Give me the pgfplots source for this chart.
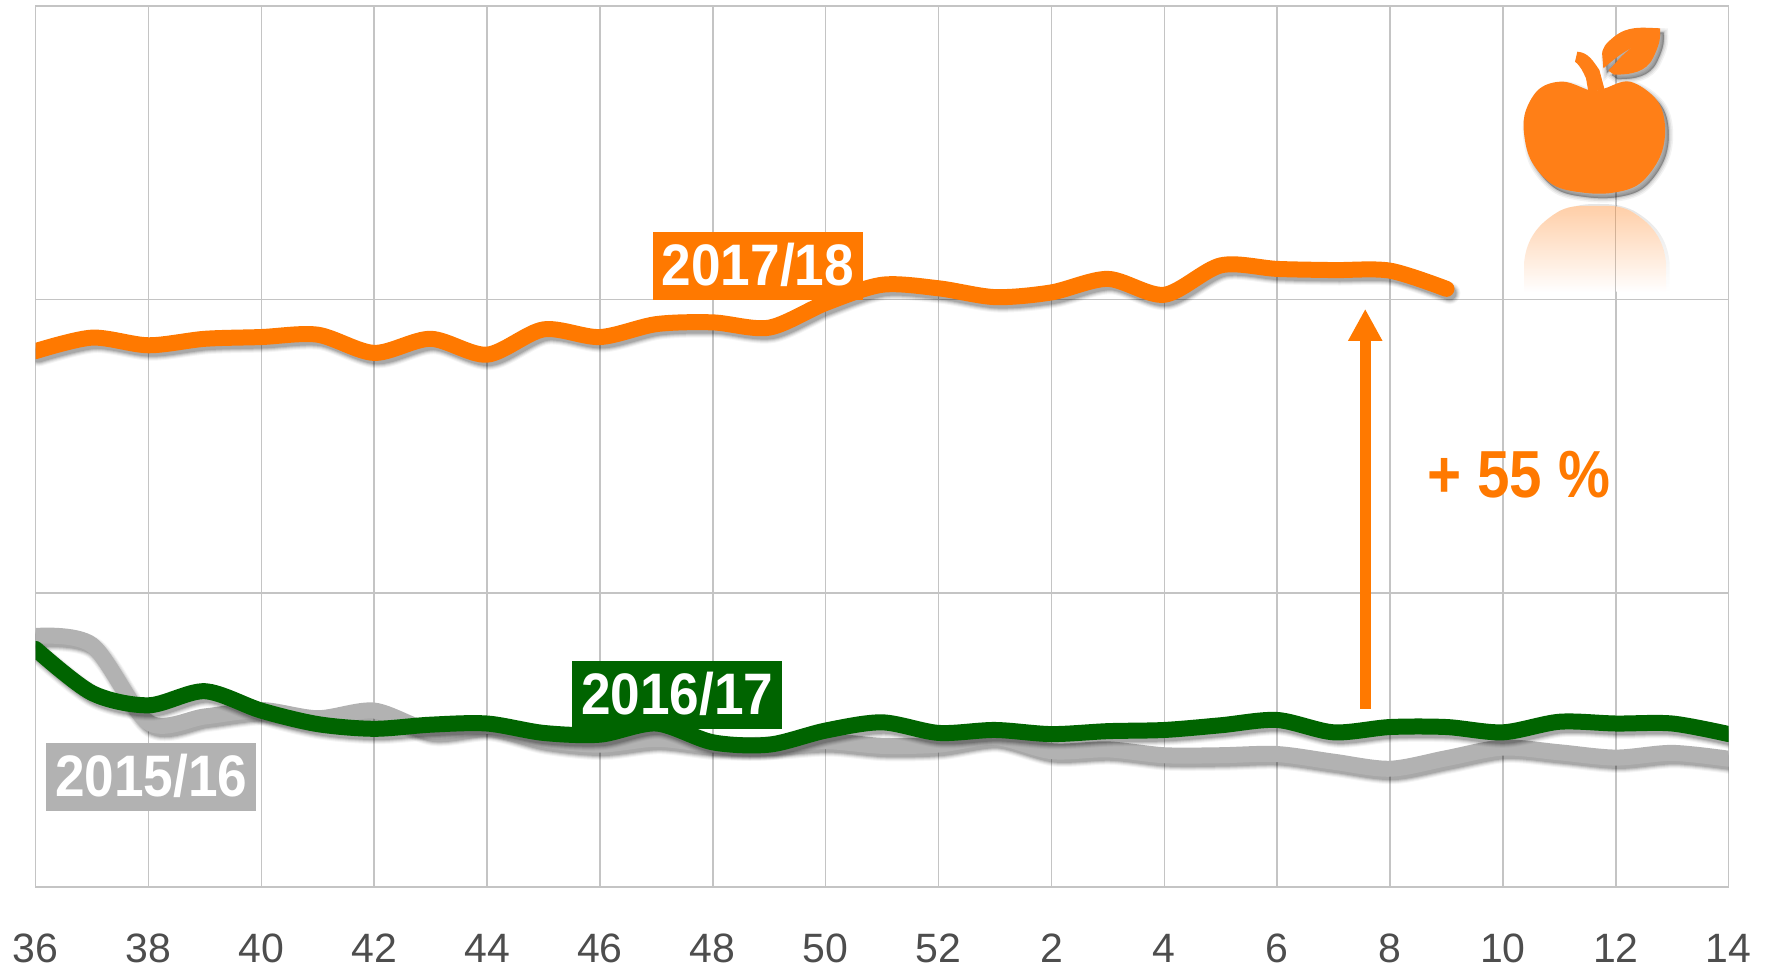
\documentclass[border=0pt]{standalone}
\usepackage{fontspec}
\setmainfont{Liberation Sans}
\usepackage{pgfplots}
\usepackage{pgfplotstable}
\pgfplotsset{compat=1.18}
\usetikzlibrary{arrows.meta,fadings}

\definecolor{gridgray}{HTML}{C4C4C4}
\definecolor{ticktext}{HTML}{4D4D4D}
\definecolor{c1516}{HTML}{B2B2B2}
\definecolor{c1617}{HTML}{006400}
\definecolor{c1718}{HTML}{FF7900}
\definecolor{appleorange}{HTML}{FF7F17}

% week index: 0 = week 36, 16 = week 52, 17 = week 1, 30 = week 14
\pgfplotstableread{
x y
0 142.7
1 141.2
2 128.0
3 129.0
4 130.1
5 128.7
6 130.0
7 126.6
8 127.4
9 125.1
10 124.2
11 125.2
12 124.2
13 124.2
14 124.8
15 124.0
16 124.2
17 125.5
18 123.1
19 123.4
20 122.4
21 122.4
22 122.6
23 121.3
24 120.1
25 121.9
26 123.7
27 122.9
28 122.0
29 122.8
30 121.8
}\seasonA
\pgfplotstableread{
x y
0 140.5
1 133.0
2 130.9
3 133.3
4 130.0
5 127.7
6 126.9
7 127.6
8 127.8
9 126.2
10 125.9
11 127.8
12 124.6
13 124.2
14 126.6
15 128.0
16 126.2
17 126.7
18 126.0
19 126.5
20 126.7
21 127.5
22 128.4
23 126.3
24 127.2
25 127.2
26 126.3
27 128.1
28 127.8
29 127.8
30 126.0
}\seasonB
\pgfplotstableread{
x y
0 191.2
1 193.5
2 192.2
3 193.3
4 193.6
5 194.0
6 190.9
7 193.3
8 190.6
9 194.9
10 193.6
11 195.8
12 196.1
13 195.2
14 199.4
15 202.5
16 201.9
17 200.4
18 201.2
19 203.5
20 200.8
21 205.8
22 205.2
23 205.0
24 204.9
25 201.8
}\seasonC

% soft shadow (a few see-through strokes), then the line itself
\newcommand{\seasonline}[2]{
  \addplot[smooth,black,opacity=.04,line width=11pt,line cap=round,xshift=1.5pt,yshift=-2.2pt] table {#2};
  \addplot[smooth,black,opacity=.06,line width=10pt,line cap=round,xshift=1.5pt,yshift=-2.2pt] table {#2};
  \addplot[smooth,black,opacity=.08,line width=9pt,line cap=round,xshift=1.5pt,yshift=-2.2pt] table {#2};
  \addplot[smooth,black,opacity=.10,line width=8pt,line cap=round,xshift=1.5pt,yshift=-2.2pt] table {#2};
  \addplot[smooth,black,opacity=.12,line width=7pt,line cap=round,xshift=1.5pt,yshift=-2.2pt] table {#2};
  \addplot[smooth,#1,line width=8pt,line cap=round,line join=round] table {#2};
}

\begin{document}
\begin{tikzpicture}
\path[use as bounding box] (0,0) rectangle (885pt,484pt);
\begin{axis}[
    at={(17.75pt,40.6pt)},
    anchor=south west,
    scale only axis,
    width=846.6pt,
    height=440.5pt,
    xmin=0, xmax=30,
    ymin=100, ymax=250,
    xtick={0,2,...,30},
    xticklabels={36,38,40,42,44,46,48,50,52,2,4,6,8,10,12,14},
    ytick={100,150,200,250},
    yticklabels={},
    xmajorgrids,
    ymajorgrids,
    grid style={gridgray,line width=.75pt},
    axis line style={gridgray,line width=.75pt},
    major tick length=0pt,
    xticklabel style={anchor=base,inner sep=0pt,yshift=-38pt,text=ticktext,font=\fontsize{20.5}{24}\selectfont},
]
\seasonline{c1516}{\seasonA}
\seasonline{c1617}{\seasonB}
\seasonline{c1718}{\seasonC}

\draw[c1718,line width=5.3pt,-{Triangle[width=16pt,length=16pt]}]
  (axis cs:23.56,130.35) -- (axis cs:23.56,198.4);
\node[text=c1718,font=\bfseries\fontsize{29.2}{32}\selectfont] at (axis cs:26.28,170.1) {\scalebox{1}[1.14]{+ 55 \%}};

\tikzset{season label/.style={fill=#1,text=white,inner sep=0pt,minimum width=105pt,minimum height=34pt,
  font=\bfseries\fontsize{26.6}{30}\selectfont}}
\node[season label=c1516] at (axis cs:2.05,118.73) {\raisebox{1pt}{\scalebox{1}[1.1]{2015/16}}};
\node[season label=c1617] at (axis cs:11.37,132.69) {\raisebox{1pt}{\scalebox{1}[1.1]{2016/17}}};
\node[season label=c1718] at (axis cs:12.80,205.72) {\raisebox{1.8pt}{\scalebox{1}[1.1]{2017/18}}};
\end{axis}

% apple icon, coordinates in pixels of the crop starting at x=1440 (3x)
\begin{scope}[shift={(720pt,484pt)},x=.16667pt,y=-.16667pt]
\def\applebody{plot[smooth cycle,tension=.6] coordinates {(445,270) (370,245) (300,265) (258,330) (252,400)
  (275,485) (340,555) (430,578) (520,578) (600,550) (660,470) (675,380) (650,300) (570,245) (495,265) (468,272)}}
\def\applestem{(445,275) -- (438,235) to[out=115,in=-40] (405,185) -- (412,155) to[out=-5,in=125] (478,210) -- (494,270) -- cycle}
\def\appleleaf{(660,85) to[out=178,in=40] (520,112) to[out=220,in=100] (487,170) -- (490,205) to[out=40,in=205] (592,135)
  to[out=205,in=45] (505,212) -- (522,224) to[out=0,in=-115] (640,172) to[out=65,in=-85] cycle}
\foreach \w/\o in {9/.05,6/.07,3/.09,1/.12}{
  \fill[black,opacity=\o,xshift=1.8pt,yshift=-2.2pt,draw=black,line width=\w pt*.5] \applebody;
  \fill[black,opacity=\o,xshift=1.8pt,yshift=-2.2pt,draw=black,line width=\w pt*.5] \appleleaf;
}
\fill[appleorange] \applebody;
\fill[appleorange] \applestem;
\fill[appleorange] \appleleaf;
% faint shadow of the mirrored part
\fill[black,opacity=.10,path fading=south,xshift=1.8pt]
  (252,875) -- (252,790) to[out=85,in=210] (360,632) to[out=25,in=180] (465,612)
  to[out=0,in=155] (570,632) to[out=-30,in=95] (678,790) -- (678,875) -- cycle;
% mirrored part below the apple
\fill[white] (252,875) -- (252,790) to[out=85,in=210] (360,632) to[out=25,in=180] (465,618)
  to[out=0,in=155] (570,632) to[out=-30,in=95] (678,790) -- (678,875) -- cycle;
\draw[gridgray,line width=.75pt] (527,600) -- (527,875);
\fill[appleorange,opacity=.38,path fading=south]
  (252,875) -- (252,790) to[out=85,in=210] (360,632) to[out=25,in=180] (465,618)
  to[out=0,in=155] (570,632) to[out=-30,in=95] (678,790) -- (678,875) -- cycle;
\end{scope}
\end{tikzpicture}
\end{document}
